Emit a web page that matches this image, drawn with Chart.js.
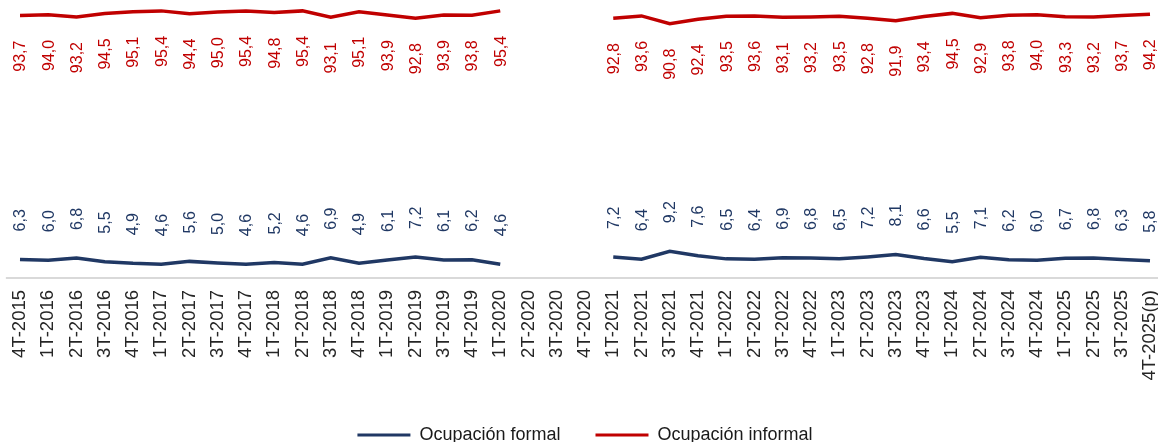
<!DOCTYPE html>
<html>
<head>
<meta charset="utf-8">
<script src="https://cdn.jsdelivr.net/npm/chart.js@4.4.0/dist/chart.umd.min.js"></script>
<style>
  html, body { margin: 0; padding: 0; background: #fff; }
  #wrap { width: 1158px; height: 442px; }
</style>
</head>
<body>
<div id="wrap"><canvas id="main-chart"></canvas></div>
<script>
var trimestres = ["4T-2015","1T-2016","2T-2016","3T-2016","4T-2016","1T-2017","2T-2017","3T-2017","4T-2017",
  "1T-2018","2T-2018","3T-2018","4T-2018","1T-2019","2T-2019","3T-2019","4T-2019","1T-2020","2T-2020",
  "3T-2020","4T-2020","1T-2021","2T-2021","3T-2021","4T-2021","1T-2022","2T-2022","3T-2022","4T-2022",
  "1T-2023","2T-2023","3T-2023","4T-2023","1T-2024","2T-2024","3T-2024","4T-2024","1T-2025","2T-2025",
  "3T-2025","4T-2025(p)"];

var formal = [6.3,6.0,6.8,5.5,4.9,4.6,5.6,5.0,4.6,5.2,4.6,6.9,4.9,6.1,7.2,6.1,6.2,4.6,null,null,null,
  7.2,6.4,9.2,7.6,6.5,6.4,6.9,6.8,6.5,7.2,8.1,6.6,5.5,7.1,6.2,6.0,6.7,6.8,6.3,5.8];

var informal = [93.7,94.0,93.2,94.5,95.1,95.4,94.4,95.0,95.4,94.8,95.4,93.1,95.1,93.9,92.8,93.9,93.8,95.4,null,null,null,
  92.8,93.6,90.8,92.4,93.5,93.6,93.1,93.2,93.5,92.8,91.9,93.4,94.5,92.9,93.8,94.0,93.3,93.2,93.7,94.2];

var azul = '#203864';
var rojo = '#c00000';
var fuente = "'Liberation Sans', Arial, sans-serif";

// linea base gris que ocupa media categoria a cada lado
const lineaBase = {
  id: 'lineaBase',
  beforeDatasetsDraw(chart) {
    const x = chart.scales.x;
    const paso = x.getPixelForValue(1) - x.getPixelForValue(0);
    const ctx = chart.ctx;
    ctx.save();
    ctx.strokeStyle = '#d9d9d9';
    ctx.lineWidth = 2;
    ctx.beginPath();
    ctx.moveTo(x.getPixelForValue(0) - paso / 2, chart.chartArea.bottom + 1);
    ctx.lineTo(x.getPixelForValue(trimestres.length - 1) + paso / 2, chart.chartArea.bottom + 1);
    ctx.stroke();
    ctx.restore();
  }
};

// etiquetas de valor giradas: formal por encima, informal por debajo
const etiquetas = {
  id: 'etiquetas',
  afterDatasetsDraw(chart) {
    const ctx = chart.ctx;
    ctx.save();
    ctx.font = '16px ' + fuente;
    ctx.textBaseline = 'middle';
    chart.data.datasets.forEach(function(ds, i) {
      const meta = chart.getDatasetMeta(i);
      meta.data.forEach(function(pt, j) {
        const v = ds.data[j];
        if (v === null || pt.skip) return;
        ctx.save();
        ctx.fillStyle = ds.borderColor;
        if (ds.arriba) {
          ctx.translate(pt.x, pt.y - 28);
          ctx.rotate(-Math.PI / 2);
          ctx.textAlign = 'left';
        } else {
          ctx.translate(pt.x, pt.y + 25);
          ctx.rotate(-Math.PI / 2);
          ctx.textAlign = 'right';
        }
        ctx.fillText(v.toFixed(1).replace('.', ','), 0, 1);
        ctx.restore();
      });
    });
    ctx.restore();
  }
};

const mainChart = new Chart(document.getElementById('main-chart'), {
  type: 'line',
  data: {
    labels: trimestres,
    datasets: [{
      label: 'Ocupación formal',
      data: formal,
      borderColor: azul,
      backgroundColor: azul,
      borderWidth: 3.5,
      arriba: true
    }, {
      label: 'Ocupación informal',
      data: informal,
      borderColor: rojo,
      backgroundColor: rojo,
      borderWidth: 3.5,
      arriba: false
    }]
  },
  options: {
    responsive: true,
    maintainAspectRatio: false,
    animation: false,
    layout: {
      padding: { left: 20, right: 8, top: 0, bottom: 0 }
    },
    plugins: {
      tooltip: { enabled: false },
      legend: {
        position: 'bottom',
        maxHeight: 51,
        labels: {
          boxWidth: 53,
          boxHeight: 3,
          padding: 35,
          color: '#1a1a1a',
          font: { family: fuente, size: 18 },
          generateLabels: function(chart) {
            return Chart.defaults.plugins.legend.labels.generateLabels(chart).map(function(l) {
              l.lineWidth = 0;
              return l;
            });
          }
        }
      }
    },
    scales: {
      x: {
        offset: false,
        grid: { display: false, drawTicks: false },
        border: { display: false },
        ticks: {
          autoSkip: false,
          minRotation: 90,
          maxRotation: 90,
          padding: 13,
          color: '#262626',
          font: { family: fuente, size: 18.5 }
        },
        afterFit: function(scale) {
          scale.height = 114;
          scale.paddingLeft = 0;
          scale.paddingRight = 0;
        }
      },
      y: {
        display: false,
        min: 0,
        max: 99.3
      }
    },
    elements: {
      line: { tension: 0 },
      point: { radius: 0, hoverRadius: 0 }
    }
  },
  plugins: [lineaBase, etiquetas]
});
</script>
</body>
</html>
